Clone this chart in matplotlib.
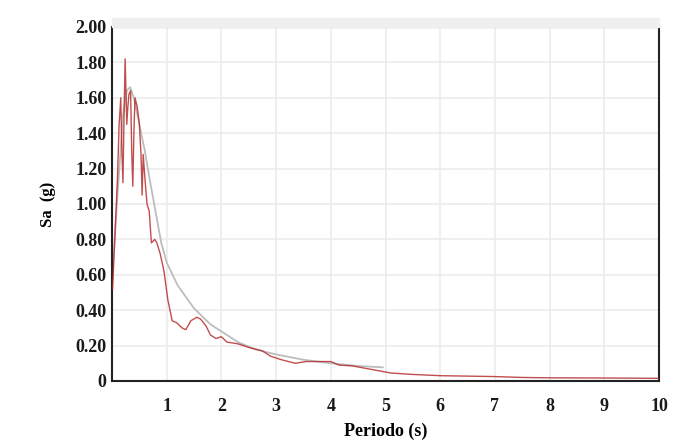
import matplotlib
matplotlib.use('Agg')
import matplotlib.pyplot as plt
from matplotlib.patches import Rectangle

# response spectrum of the record (red)
period_rec = [0.01, 0.05, 0.10, 0.13, 0.16, 0.18, 0.20, 0.22, 0.24, 0.27,
              0.29, 0.31, 0.34, 0.36, 0.38, 0.40, 0.42, 0.46, 0.50, 0.53,
              0.55, 0.57, 0.60, 0.64, 0.68, 0.72, 0.78, 0.82, 0.88, 0.95,
              1.02, 1.10, 1.18, 1.28, 1.35, 1.44, 1.55, 1.62, 1.72, 1.80,
              1.90, 2.00, 2.10, 2.30, 2.50, 2.75, 2.90, 3.10, 3.35, 3.55,
              3.80, 4.00, 4.15, 4.40, 4.75, 5.10, 5.50, 6.00, 7.00, 7.50,
              8.00, 9.00, 10.0]
sa_rec = [0.52, 0.80, 1.15, 1.45, 1.60, 1.30, 1.12, 1.50, 1.82, 1.45,
          1.55, 1.62, 1.64, 1.30, 1.10, 1.40, 1.60, 1.55, 1.45, 1.28,
          1.05, 1.28, 1.15, 1.00, 0.96, 0.78, 0.80, 0.78, 0.72, 0.62,
          0.46, 0.34, 0.33, 0.30, 0.29, 0.34, 0.36, 0.35, 0.31, 0.26,
          0.24, 0.25, 0.22, 0.21, 0.19, 0.17, 0.14, 0.12, 0.10, 0.11,
          0.11, 0.11, 0.09, 0.085, 0.065, 0.045, 0.037, 0.030, 0.025, 0.020,
          0.018, 0.017, 0.015]

# target / design spectrum (gray)
period_tgt = [0.00, 0.10, 0.20, 0.27, 0.33, 0.40, 0.50, 0.60, 0.70, 0.80,
              0.90, 1.00, 1.20, 1.50, 1.80, 2.00, 2.30, 2.60, 3.00, 3.50,
              4.00, 4.50, 4.95]
sa_tgt = [0.55, 1.05, 1.50, 1.64, 1.66, 1.60, 1.45, 1.30, 1.12, 0.95,
          0.78, 0.67, 0.54, 0.41, 0.32, 0.28, 0.22, 0.18, 0.15, 0.12,
          0.10, 0.085, 0.077]

x_ticks = [1, 2, 3, 4, 5, 6, 7, 8, 9, 10]
y_ticks = [0, 0.2, 0.4, 0.6, 0.8, 1.0, 1.2, 1.4, 1.6, 1.8, 2.0]
y_tick_labels = ['0', '0.20', '0.40', '0.60', '0.80', '1.00', '1.20',
                 '1.40', '1.60', '1.80', '2.00']

plt.rcParams['font.family'] = ['Liberation Serif', 'DejaVu Serif']

fig = plt.figure(figsize=(6.76, 4.44), dpi=100)
ax = fig.add_axes([0.1657, 0.1419, 0.8092, 0.7973])

# light band above the plot frame
fig.patches.append(Rectangle((0.1657, 0.9392), 0.8092, 0.021,
                             transform=fig.transFigure, color='#efefef',
                             zorder=0))

ax.plot(period_tgt, sa_tgt, color='#bdbdbd', lw=1.3, zorder=2)
ax.plot(period_rec, sa_rec, color='#b22222', lw=1.0, alpha=0.8, zorder=3)

ax.set_xlim(0, 10)
ax.set_ylim(0, 2.0)
ax.set_xticks(x_ticks)
ax.set_xticklabels([str(t) for t in x_ticks])
ax.set_yticks(y_ticks)
ax.set_yticklabels(y_tick_labels)
ax.tick_params(length=0, labelsize=13, colors='#1a1a1a')
ax.tick_params(axis='x', pad=12)
ax.tick_params(axis='y', pad=4)
for lbl in ax.get_xticklabels() + ax.get_yticklabels():
    lbl.set_fontweight('bold')

ax.grid(True, color='#ececec', lw=1.2)
ax.set_axisbelow(True)
for sp in ax.spines.values():
    sp.set_color('#222222')
    sp.set_linewidth(1.5)

ax.set_xlabel('Periodo (s)', fontsize=13, fontweight='bold', labelpad=6)
ax.set_ylabel('Sa  (g)', fontsize=12, fontweight='bold', labelpad=14)

fig.savefig('out.png', dpi=100)
